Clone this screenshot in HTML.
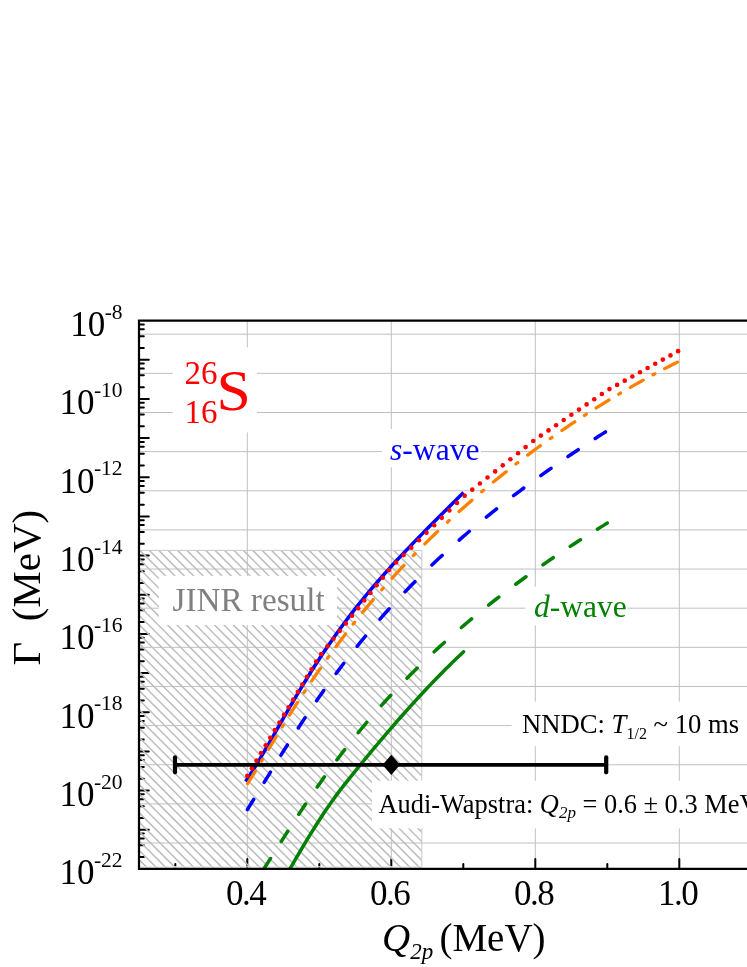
<!DOCTYPE html>
<html><head><meta charset="utf-8"><title>fig</title>
<style>
html,body{margin:0;padding:0;background:#fff;}
body{width:747px;height:967px;overflow:hidden;position:relative;font-family:"Liberation Serif",serif;}
svg{position:absolute;left:0;top:0;display:block;will-change:transform;opacity:0.999}
text{font-family:"Liberation Serif",serif;}
.i{font-style:italic}
</style></head><body>
<svg width="747" height="967" viewBox="0 0 747 967">
<rect width="747" height="967" fill="#fff"/>

<g stroke="#c0c0c0" stroke-width="1" fill="none">
<path d="M247.3 320.6 V868.9"/>
<path d="M391.3 320.6 V868.9"/>
<path d="M535.3 320.6 V868.9"/>
<path d="M679.3 320.6 V868.9"/>
<path d="M139 334.2 H747"/>
<path d="M139 373.34 H747"/>
<path d="M139 412.48 H747"/>
<path d="M139 451.62 H747"/>
<path d="M139 490.76 H747"/>
<path d="M139 529.9 H747"/>
<path d="M139 569.04 H747"/>
<path d="M139 608.18 H747"/>
<path d="M139 647.32 H747"/>
<path d="M139 686.46 H747"/>
<path d="M139 725.6 H747"/>
<path d="M139 764.74 H747"/>
<path d="M139 803.88 H747"/>
<path d="M139 843.02 H747"/>
</g>
<g stroke="#000" stroke-width="2" fill="none" stroke-linecap="round">
<path d="M139 324.4 h4.8"/>
<path d="M139 329.29 h4.8"/>
<path d="M139 336.19 h4.8"/>
<path d="M139 347.97 h4.8"/>
<path d="M139 359.76 h9.8"/>
<path d="M139 363.56 h4.8"/>
<path d="M139 368.45 h4.8"/>
<path d="M139 375.35 h4.8"/>
<path d="M139 387.14 h4.8"/>
<path d="M139 398.93 h9.8"/>
<path d="M139 402.72 h4.8"/>
<path d="M139 407.62 h4.8"/>
<path d="M139 414.51 h4.8"/>
<path d="M139 426.3 h4.8"/>
<path d="M139 438.09 h9.8"/>
<path d="M139 441.89 h4.8"/>
<path d="M139 446.78 h4.8"/>
<path d="M139 453.68 h4.8"/>
<path d="M139 465.47 h4.8"/>
<path d="M139 477.26 h9.8"/>
<path d="M139 481.05 h4.8"/>
<path d="M139 485.95 h4.8"/>
<path d="M139 492.84 h4.8"/>
<path d="M139 504.63 h4.8"/>
<path d="M139 516.42 h9.8"/>
<path d="M139 520.22 h4.8"/>
<path d="M139 525.11 h4.8"/>
<path d="M139 532.01 h4.8"/>
<path d="M139 543.8 h4.8"/>
<path d="M139 555.59 h9.8"/>
<path d="M139 559.38 h4.8"/>
<path d="M139 564.27 h4.8"/>
<path d="M139 571.17 h4.8"/>
<path d="M139 582.96 h4.8"/>
<path d="M139 594.75 h9.8"/>
<path d="M139 598.55 h4.8"/>
<path d="M139 603.44 h4.8"/>
<path d="M139 610.34 h4.8"/>
<path d="M139 622.12 h4.8"/>
<path d="M139 633.91 h9.8"/>
<path d="M139 637.71 h4.8"/>
<path d="M139 642.6 h4.8"/>
<path d="M139 649.5 h4.8"/>
<path d="M139 661.29 h4.8"/>
<path d="M139 673.08 h9.8"/>
<path d="M139 676.87 h4.8"/>
<path d="M139 681.77 h4.8"/>
<path d="M139 688.66 h4.8"/>
<path d="M139 700.45 h4.8"/>
<path d="M139 712.24 h9.8"/>
<path d="M139 716.04 h4.8"/>
<path d="M139 720.93 h4.8"/>
<path d="M139 727.83 h4.8"/>
<path d="M139 739.62 h4.8"/>
<path d="M139 751.41 h9.8"/>
<path d="M139 755.2 h4.8"/>
<path d="M139 760.1 h4.8"/>
<path d="M139 766.99 h4.8"/>
<path d="M139 778.78 h4.8"/>
<path d="M139 790.57 h9.8"/>
<path d="M139 794.37 h4.8"/>
<path d="M139 799.26 h4.8"/>
<path d="M139 806.16 h4.8"/>
<path d="M139 817.95 h4.8"/>
<path d="M139 829.74 h9.8"/>
<path d="M139 833.53 h4.8"/>
<path d="M139 838.42 h4.8"/>
<path d="M139 845.32 h4.8"/>
<path d="M139 857.11 h4.8"/>
<path d="M175.3 868.9 v-4.8"/>
<path d="M247.3 868.9 v-9.8"/>
<path d="M319.3 868.9 v-4.8"/>
<path d="M391.3 868.9 v-9.8"/>
<path d="M463.3 868.9 v-4.8"/>
<path d="M535.3 868.9 v-9.8"/>
<path d="M607.3 868.9 v-4.8"/>
<path d="M679.3 868.9 v-9.8"/>
<path d="M751.3 868.9 v-4.8"/>
</g>
<clipPath id="hc"><rect x="139" y="550.4" width="282.8" height="318.5"/></clipPath>
<clipPath id="hr" clip-path="url(#hc)"><path d="M246.51 780.18 L249.59 775.57 L252.68 770.77 L255.76 765.81 L258.84 760.72 L261.93 755.52 L265.01 750.24 L268.09 744.91 L271.18 739.53 L274.26 734.13 L277.34 728.73 L280.43 723.32 L283.51 717.94 L286.59 712.58 L289.68 707.25 L292.76 701.97 L295.85 696.73 L298.93 691.55 L302.01 686.43 L305.1 681.37 L308.18 676.37 L311.26 671.44 L314.35 666.58 L317.43 661.79 L320.51 657.07 L323.6 652.42 L326.68 647.85 L329.76 643.34 L332.85 638.91 L335.93 634.54 L339.02 630.25 L342.1 626.02 L345.18 621.86 L348.27 617.77 L351.35 613.74 L354.43 609.76 L357.52 605.85 L360.6 602 L363.68 598.2 L366.77 594.45 L369.85 590.76 L372.94 587.12 L376.02 583.52 L379.1 579.97 L382.19 576.46 L385.27 572.99 L388.35 569.56 L391.44 566.16 L394.52 562.8 L397.6 559.47 L400.69 556.18 L403.77 552.91 L406.85 549.66 L423.8 548.4 L423.8 870.9 L246.51 870.9 Z"/></clipPath>
<path d="M-198.4 550.4 l318.5 318.5M-189 550.4 l318.5 318.5M-179.6 550.4 l318.5 318.5M-170.2 550.4 l318.5 318.5M-160.8 550.4 l318.5 318.5M-151.4 550.4 l318.5 318.5M-142 550.4 l318.5 318.5M-132.6 550.4 l318.5 318.5M-123.2 550.4 l318.5 318.5M-113.8 550.4 l318.5 318.5M-104.4 550.4 l318.5 318.5M-95 550.4 l318.5 318.5M-85.6 550.4 l318.5 318.5M-76.2 550.4 l318.5 318.5M-66.8 550.4 l318.5 318.5M-57.4 550.4 l318.5 318.5M-48 550.4 l318.5 318.5M-38.6 550.4 l318.5 318.5M-29.2 550.4 l318.5 318.5M-19.8 550.4 l318.5 318.5M-10.4 550.4 l318.5 318.5M-1 550.4 l318.5 318.5M8.4 550.4 l318.5 318.5M17.8 550.4 l318.5 318.5M27.2 550.4 l318.5 318.5M36.6 550.4 l318.5 318.5M46 550.4 l318.5 318.5M55.4 550.4 l318.5 318.5M64.8 550.4 l318.5 318.5M74.2 550.4 l318.5 318.5M83.6 550.4 l318.5 318.5M93 550.4 l318.5 318.5M102.4 550.4 l318.5 318.5M111.8 550.4 l318.5 318.5M121.2 550.4 l318.5 318.5M130.6 550.4 l318.5 318.5M140 550.4 l318.5 318.5M149.4 550.4 l318.5 318.5M158.8 550.4 l318.5 318.5M168.2 550.4 l318.5 318.5M177.6 550.4 l318.5 318.5M187 550.4 l318.5 318.5M196.4 550.4 l318.5 318.5M205.8 550.4 l318.5 318.5M215.2 550.4 l318.5 318.5M224.6 550.4 l318.5 318.5M234 550.4 l318.5 318.5M243.4 550.4 l318.5 318.5M252.8 550.4 l318.5 318.5M262.2 550.4 l318.5 318.5M271.6 550.4 l318.5 318.5M281 550.4 l318.5 318.5M290.4 550.4 l318.5 318.5M299.8 550.4 l318.5 318.5M309.2 550.4 l318.5 318.5M318.6 550.4 l318.5 318.5M328 550.4 l318.5 318.5M337.4 550.4 l318.5 318.5M346.8 550.4 l318.5 318.5M356.2 550.4 l318.5 318.5M365.6 550.4 l318.5 318.5M375 550.4 l318.5 318.5M384.4 550.4 l318.5 318.5M393.8 550.4 l318.5 318.5M403.2 550.4 l318.5 318.5M412.6 550.4 l318.5 318.5M422 550.4 l318.5 318.5" clip-path="url(#hc)" stroke="#bebebe" stroke-width="1.5" fill="none"/>
<path d="M139 550.4 H421.8 V868.9" stroke="#c8c8c8" stroke-width="1" fill="none"/>
<path d="M139 866.8 H421.8" stroke="#e6e6e6" stroke-width="1.2" fill="none"/>
<rect x="172.7" y="347.4" width="84.3" height="85" fill="#fff"/>
<rect x="158.8" y="575.9" width="178.2" height="49.1" fill="#fff"/>
<rect x="381.8" y="429" width="99.1" height="38.4" fill="#fff"/>
<rect x="525.3" y="586.7" width="102.1" height="38.6" fill="#fff"/>
<rect x="511.6" y="701.6" width="235.4" height="44.6" fill="#fff"/>
<rect x="372" y="780.7" width="375" height="47.7" fill="#fff"/>
<clipPath id="plotc"><rect x="139" y="320.6" width="700" height="548.3"/></clipPath>
<g fill="none" stroke-linecap="round" stroke-linejoin="round" clip-path="url(#plotc)">
<path d="M289.91 868.86 L292.13 865.01 L294.3 861.27 L296.52 857.45 L298.68 853.76 L300.91 849.99 L303.07 846.35 L305.29 842.64 L307.52 838.96 L309.68 835.41 L311.9 831.8 L314.07 828.32 L316.29 824.79 L318.45 821.4 L320.68 817.96 L322.9 814.57 L325.06 811.32 L327.29 808.03 L329.45 804.88 L331.67 801.7 L333.84 798.67 L336.06 795.62 L338.28 792.63 L340.45 789.78 L342.67 786.9 L344.83 784.13 L347.06 781.32 L349.22 778.6 L351.44 775.82 L353.67 773.06 L355.83 770.38 L358.05 767.64 L360.22 764.99 L362.44 762.28 L364.6 759.64 L366.83 756.94 L369.05 754.26 L371.21 751.65 L373.44 748.98 L375.6 746.4 L377.82 743.75 L379.99 741.19 L382.21 738.56 L384.37 736.02 L386.6 733.41 L388.82 730.82 L390.98 728.31 L393.21 725.74 L395.37 723.25 L397.6 720.71 L399.76 718.25 L401.98 715.73 L404.21 713.22 L406.37 710.79 L408.59 708.31 L410.76 705.91 L412.98 703.46 L415.14 701.08 L417.37 698.66 L419.59 696.24 L421.75 693.91 L423.98 691.53 L426.14 689.22 L428.36 686.87 L430.53 684.59 L432.75 682.27 L434.97 679.96 L437.14 677.73 L439.36 675.46 L441.52 673.26 L443.75 671.01 L445.91 668.85 L448.13 666.64 L450.36 664.44 L452.52 662.32 L454.74 660.16 L456.91 658.08 L459.13 655.95 L461.29 653.9 L463.52 651.81" stroke="#008000" stroke-width="3.5"/>
<path d="M247.3 894.07 L249.22 891.28 L251.12 888.49 L252.98 885.7 M264.03 868.69 L266.2 865.29 L268.35 861.89 L270.51 858.49 M281.27 841.48 L283.43 838.08 L285.6 834.68 L287.77 831.28 M298.81 814.27 L301.05 810.87 L303.31 807.47 L305.59 804.07 M317.22 787.06 L319.6 783.66 L322.01 780.26 L324.43 776.86 M336.91 759.86 L339.48 756.46 L342.07 753.06 L344.7 749.66 M358.23 732.65 L361.03 729.25 L363.85 725.85 L366.71 722.45 M381.5 705.44 L384.56 702.04 L387.65 698.64 L390.78 695.24 M407 678.23 L410.35 674.83 L413.75 671.44 L417.15 668.07 M434.16 651.8 L437.56 648.66 L440.96 645.55 L444.36 642.47 M461.36 627.53 L464.76 624.63 L468.16 621.76 L471.56 618.92 M488.57 605.1 L491.97 602.41 L495.37 599.75 L498.77 597.11 M515.78 584.23 L519.18 581.72 L522.58 579.23 L525.98 576.77 M542.99 564.72 L546.39 562.37 L549.79 560.03 L553.19 557.72 M570.2 546.4 L573.6 544.18 L577 541.99 L580.4 539.81 M597.4 529.15 L600.7 527.13 L604 525.12 L607.3 523.12" stroke="#008000" stroke-width="3.5"/>
<path d="M247.38 809.58 L249.5 806.18 L251.62 802.78 L253.72 799.38 M264.18 782.36 L266.26 778.96 L268.35 775.56 L270.44 772.16 M280.97 755.15 L283.1 751.75 L285.24 748.35 L287.39 744.95 M298.32 727.93 L300.54 724.53 L302.78 721.13 L305.04 717.73 M316.58 700.72 L318.95 697.32 L321.33 693.92 L323.73 690.52 M336.09 673.5 L338.63 670.1 L341.2 666.7 L343.79 663.3 M357.14 646.29 L359.89 642.89 L362.67 639.49 L365.48 636.09 M380.01 619.07 L383.01 615.67 L386.04 612.27 L389.11 608.87 M404.98 591.86 L408.26 588.46 L411.57 585.06 L414.93 581.66 M431.93 565 L435.33 561.77 L438.73 558.58 L442.13 555.43 M459.15 540.12 L462.55 537.15 L465.95 534.21 L469.35 531.29 M486.36 517.12 L489.76 514.36 L493.16 511.62 L496.56 508.91 M513.58 495.68 L516.98 493.1 L520.38 490.54 L523.78 488 M540.79 475.56 L544.19 473.13 L547.59 470.71 L550.99 468.32 M568.01 456.55 L571.41 454.25 L574.81 451.95 L578.21 449.68 M595.22 438.48 L598.62 436.29 L602.02 434.1 L605.42 431.93" stroke="#0000ff" stroke-width="3.5"/>
<path d="M245.57 781.54 L248.33 777.48 L251.1 773.26 L253.86 768.89 L256.62 764.4 L259.38 759.82 L262.14 755.15 L264.9 750.43 L267.66 745.65 L270.43 740.84 L273.19 736.01 L275.95 731.17 L278.71 726.33 L281.47 721.5 L284.16 716.81 L286.92 712.01 L289.68 707.24 L292.45 702.51 L295.21 697.81 L297.97 693.16 L300.73 688.55 L303.49 683.99 L306.25 679.48 L309.01 675.03 L311.78 670.63 L314.54 666.28 L317.3 661.99 L320.06 657.76 L322.82 653.58 L325.58 649.47 L328.35 645.41 L331.11 641.4 L333.87 637.46 L336.63 633.57 L339.39 629.73 L342.15 625.95 L344.91 622.22 L347.68 618.55 L350.44 614.92 L353.2 611.35 L355.89 607.91 L358.65 604.43 L361.41 600.99 L364.17 597.6 L366.93 594.25 L369.7 590.95 L372.46 587.68 L375.22 584.45 L377.98 581.25 L380.74 578.1 L383.5 574.97 L386.27 571.88 L389.03 568.81 L391.79 565.78 L394.55 562.77 L397.31 559.79 L400.07 556.83 L402.83 553.9 L405.6 550.98 L408.36 548.09 L411.12 545.21 L413.88 542.35 L416.64 539.51 L419.4 536.68 L422.17 533.87 L424.93 531.06 L427.62 528.34 L430.38 525.56 L433.14 522.78 L435.9 520.01 L438.66 517.24 L441.42 514.48 L444.19 511.73 L446.95 508.97 L449.71 506.22 L452.47 503.46 L455.23 500.71 L457.99 497.95 L460.75 495.2 L463.52 492.43" stroke="#0000ff" stroke-width="3.5" stroke-linecap="butt"/>
<path d="M247.58 783.72 L250.24 779.46 L252.87 775.19 L255.48 770.92 M268.45 749.46 L271.03 745.2 L273.61 740.93 L276.2 736.66 M289.45 715.2 L292.14 710.94 L294.85 706.67 L297.58 702.4 M311.72 680.94 L314.61 676.68 L317.54 672.41 L320.5 668.14 M335.93 646.68 L339.11 642.42 L342.32 638.15 L345.58 633.88 M362.59 612.42 L366.11 608.16 L369.67 603.89 L373.27 599.62 M392.12 578.16 L396.02 573.9 L399.96 569.63 L403.96 565.36 M424.86 543.91 L429.12 539.7 L433.39 535.53 L437.66 531.43 M459.12 511.5 L463.38 507.68 L467.65 503.91 L471.92 500.18 M493.38 482.04 L497.64 478.56 L501.91 475.11 L506.18 471.7 M527.64 455.12 L531.9 451.93 L536.17 448.78 L540.44 445.66 M561.9 430.49 L566.16 427.57 L570.43 424.68 L574.7 421.83 M596.16 407.95 L600.42 405.28 L604.69 402.64 L608.96 400.03 M630.42 387.37 L634.68 384.94 L638.95 382.53 L643.22 380.16 M664.68 368.64 L668.94 366.43 L673.21 364.25 L677.48 362.1" stroke="#ff8000" stroke-width="3.3"/>
<path d="M261.41 761.13 L261.78 760.53 L262.14 759.93 L262.5 759.33 M282.2 726.87 L282.57 726.27 L282.94 725.67 L283.31 725.07 M303.94 692.61 L304.34 692.01 L304.73 691.41 L305.13 690.81 M327.43 658.35 L327.86 657.75 L328.29 657.15 L328.72 656.55 M353.21 624.09 L353.68 623.49 L354.16 622.89 L354.64 622.29 M381.72 589.83 L382.24 589.23 L382.77 588.63 L383.3 588.03 M413.33 555.57 L413.91 554.97 L414.5 554.37 L415.08 553.77 M447.45 522.19 L448.05 521.63 L448.65 521.07 L449.25 520.52 M481.71 491.77 L482.31 491.27 L482.91 490.76 L483.51 490.25 M515.97 464.02 L516.57 463.56 L517.17 463.1 L517.77 462.63 M550.23 438.63 L550.83 438.21 L551.43 437.79 L552.03 437.36 M584.49 415.4 L585.09 415.01 L585.69 414.62 L586.29 414.23 M618.75 394.16 L619.35 393.81 L619.95 393.45 L620.55 393.1 M653.01 374.82 L653.61 374.49 L654.21 374.17 L654.81 373.85" stroke="#ff8000" stroke-width="3.3"/>
</g>
<g fill="#ff0000">
<circle cx="247.3" cy="775.9" r="2.3"/>
<circle cx="251.89" cy="768.28" r="2.3"/>
<circle cx="256.48" cy="760.65" r="2.3"/>
<circle cx="261.07" cy="753.03" r="2.3"/>
<circle cx="265.66" cy="745.41" r="2.3"/>
<circle cx="270.25" cy="737.79" r="2.3"/>
<circle cx="274.83" cy="730.16" r="2.3"/>
<circle cx="279.42" cy="722.54" r="2.3"/>
<circle cx="284.01" cy="714.92" r="2.3"/>
<circle cx="288.6" cy="707.29" r="2.3"/>
<circle cx="293.19" cy="699.67" r="2.3"/>
<circle cx="297.78" cy="692.05" r="2.3"/>
<circle cx="302.37" cy="684.43" r="2.3"/>
<circle cx="306.96" cy="676.8" r="2.3"/>
<circle cx="311.55" cy="669.18" r="2.3"/>
<circle cx="316.14" cy="661.56" r="2.3"/>
<circle cx="321.21" cy="653.93" r="2.3"/>
<circle cx="327.37" cy="646.31" r="2.3"/>
<circle cx="333.53" cy="638.69" r="2.3"/>
<circle cx="339.69" cy="631.06" r="2.3"/>
<circle cx="345.85" cy="623.44" r="2.3"/>
<circle cx="352.01" cy="615.82" r="2.3"/>
<circle cx="358.17" cy="608.2" r="2.3"/>
<circle cx="364.33" cy="600.57" r="2.3"/>
<circle cx="370.49" cy="592.95" r="2.3"/>
<circle cx="376.65" cy="585.33" r="2.3"/>
<circle cx="382.81" cy="577.7" r="2.3"/>
<circle cx="388.97" cy="570.08" r="2.3"/>
<circle cx="396.04" cy="562.56" r="2.3"/>
<circle cx="403.66" cy="555.11" r="2.3"/>
<circle cx="411.29" cy="547.66" r="2.3"/>
<circle cx="418.91" cy="540.2" r="2.3"/>
<circle cx="426.53" cy="532.75" r="2.3"/>
<circle cx="434.16" cy="525.3" r="2.3"/>
<circle cx="441.78" cy="517.84" r="2.3"/>
<circle cx="449.4" cy="510.39" r="2.3"/>
<circle cx="457.02" cy="502.94" r="2.3"/>
<circle cx="464.65" cy="495.73" r="2.3"/>
<circle cx="472.27" cy="489.65" r="2.3"/>
<circle cx="479.89" cy="483.57" r="2.3"/>
<circle cx="487.52" cy="477.49" r="2.3"/>
<circle cx="495.14" cy="471.42" r="2.3"/>
<circle cx="502.76" cy="465.34" r="2.3"/>
<circle cx="510.38" cy="459.26" r="2.3"/>
<circle cx="518.01" cy="453.19" r="2.3"/>
<circle cx="525.63" cy="447.11" r="2.3"/>
<circle cx="533.25" cy="441.03" r="2.3"/>
<circle cx="540.88" cy="435.6" r="2.3"/>
<circle cx="548.5" cy="430.4" r="2.3"/>
<circle cx="556.12" cy="425.2" r="2.3"/>
<circle cx="563.75" cy="420" r="2.3"/>
<circle cx="571.37" cy="414.8" r="2.3"/>
<circle cx="578.99" cy="409.61" r="2.3"/>
<circle cx="586.61" cy="404.41" r="2.3"/>
<circle cx="594.24" cy="399.21" r="2.3"/>
<circle cx="601.86" cy="394.01" r="2.3"/>
<circle cx="609.48" cy="389.09" r="2.3"/>
<circle cx="617.11" cy="384.88" r="2.3"/>
<circle cx="624.73" cy="380.67" r="2.3"/>
<circle cx="632.35" cy="376.45" r="2.3"/>
<circle cx="639.97" cy="372.24" r="2.3"/>
<circle cx="647.6" cy="368.02" r="2.3"/>
<circle cx="655.22" cy="363.81" r="2.3"/>
<circle cx="662.84" cy="359.6" r="2.3"/>
<circle cx="670.47" cy="355.38" r="2.3"/>
<circle cx="678.09" cy="351.17" r="2.3"/>
</g>
<path d="M175 764.8 H606.2" stroke="#000" stroke-width="3.7" fill="none"/>
<path d="M175 757.3 V772.3" stroke="#000" stroke-width="4.2" fill="none" stroke-linecap="round"/>
<path d="M606.2 757.3 V772.3" stroke="#000" stroke-width="4.2" fill="none" stroke-linecap="round"/>
<path d="M382.6 764.8 L391.3 754.7 L400 764.8 L391.3 774.9 Z" fill="#000"/>
<path d="M747 320.6 H139 V868.9 H747" stroke="#000" stroke-width="2.2" fill="none" stroke-linejoin="miter"/>
<text x="122.6" y="335.9" text-anchor="end" font-size="35">10<tspan font-size="21.5" dy="-17.2" dx="-0.5">-8</tspan></text>
<text x="122.6" y="414.23" text-anchor="end" font-size="35">10<tspan font-size="21.5" dy="-17.2" dx="-0.5">-10</tspan></text>
<text x="122.6" y="492.56" text-anchor="end" font-size="35">10<tspan font-size="21.5" dy="-17.2" dx="-0.5">-12</tspan></text>
<text x="122.6" y="570.89" text-anchor="end" font-size="35">10<tspan font-size="21.5" dy="-17.2" dx="-0.5">-14</tspan></text>
<text x="122.6" y="649.21" text-anchor="end" font-size="35">10<tspan font-size="21.5" dy="-17.2" dx="-0.5">-16</tspan></text>
<text x="122.6" y="727.54" text-anchor="end" font-size="35">10<tspan font-size="21.5" dy="-17.2" dx="-0.5">-18</tspan></text>
<text x="122.6" y="805.87" text-anchor="end" font-size="35">10<tspan font-size="21.5" dy="-17.2" dx="-0.5">-20</tspan></text>
<text x="122.6" y="884.2" text-anchor="end" font-size="35">10<tspan font-size="21.5" dy="-17.2" dx="-0.5">-22</tspan></text>
<text x="245.5" y="904.8" text-anchor="middle" font-size="35" letter-spacing="-1.5">0.4</text>
<text x="389.5" y="904.8" text-anchor="middle" font-size="35" letter-spacing="-1.5">0.6</text>
<text x="533.5" y="904.8" text-anchor="middle" font-size="35" letter-spacing="-1.5">0.8</text>
<text x="677.5" y="904.8" text-anchor="middle" font-size="35" letter-spacing="-1.5">1.0</text>
<text x="382" y="950.8" font-size="39"><tspan class="i">Q</tspan><tspan class="i" font-size="23" dy="8">2p</tspan><tspan dy="-8" dx="-3.5"> (MeV)</tspan></text>
<text transform="translate(40.2 665.5) rotate(-90) scale(1.0 1)" font-size="41" style="white-space:pre">Γ  (MeV)</text>
<text x="217.5" y="383.9" font-size="33" fill="#ff0000" text-anchor="end">26</text>
<text x="217.5" y="423" font-size="33" fill="#ff0000" text-anchor="end">16</text>
<text transform="translate(216.6 410.3) scale(1.1 1)" font-size="56" fill="#ff0000">S</text>
<text x="172.5" y="611" font-size="33.2" fill="#808080">JINR result</text>
<text x="390" y="460" font-size="31.6" fill="#0000ff"><tspan class="i">s</tspan>-wave</text>
<text x="534" y="617.1" font-size="31.5" fill="#008000"><tspan class="i">d</tspan>-wave</text>
<text x="522" y="733" font-size="26.67">NNDC: <tspan class="i">T</tspan><tspan font-size="16" dy="6">1/2</tspan><tspan dy="-6"> ~ 10 ms</tspan></text>
<text x="378.5" y="812.7" font-size="26.4">Audi-Wapstra: <tspan class="i">Q</tspan><tspan class="i" font-size="17" dy="5.5">2p</tspan><tspan dy="-5.5"> = 0.6 ± 0.3 MeV</tspan></text>
</svg></body></html>
